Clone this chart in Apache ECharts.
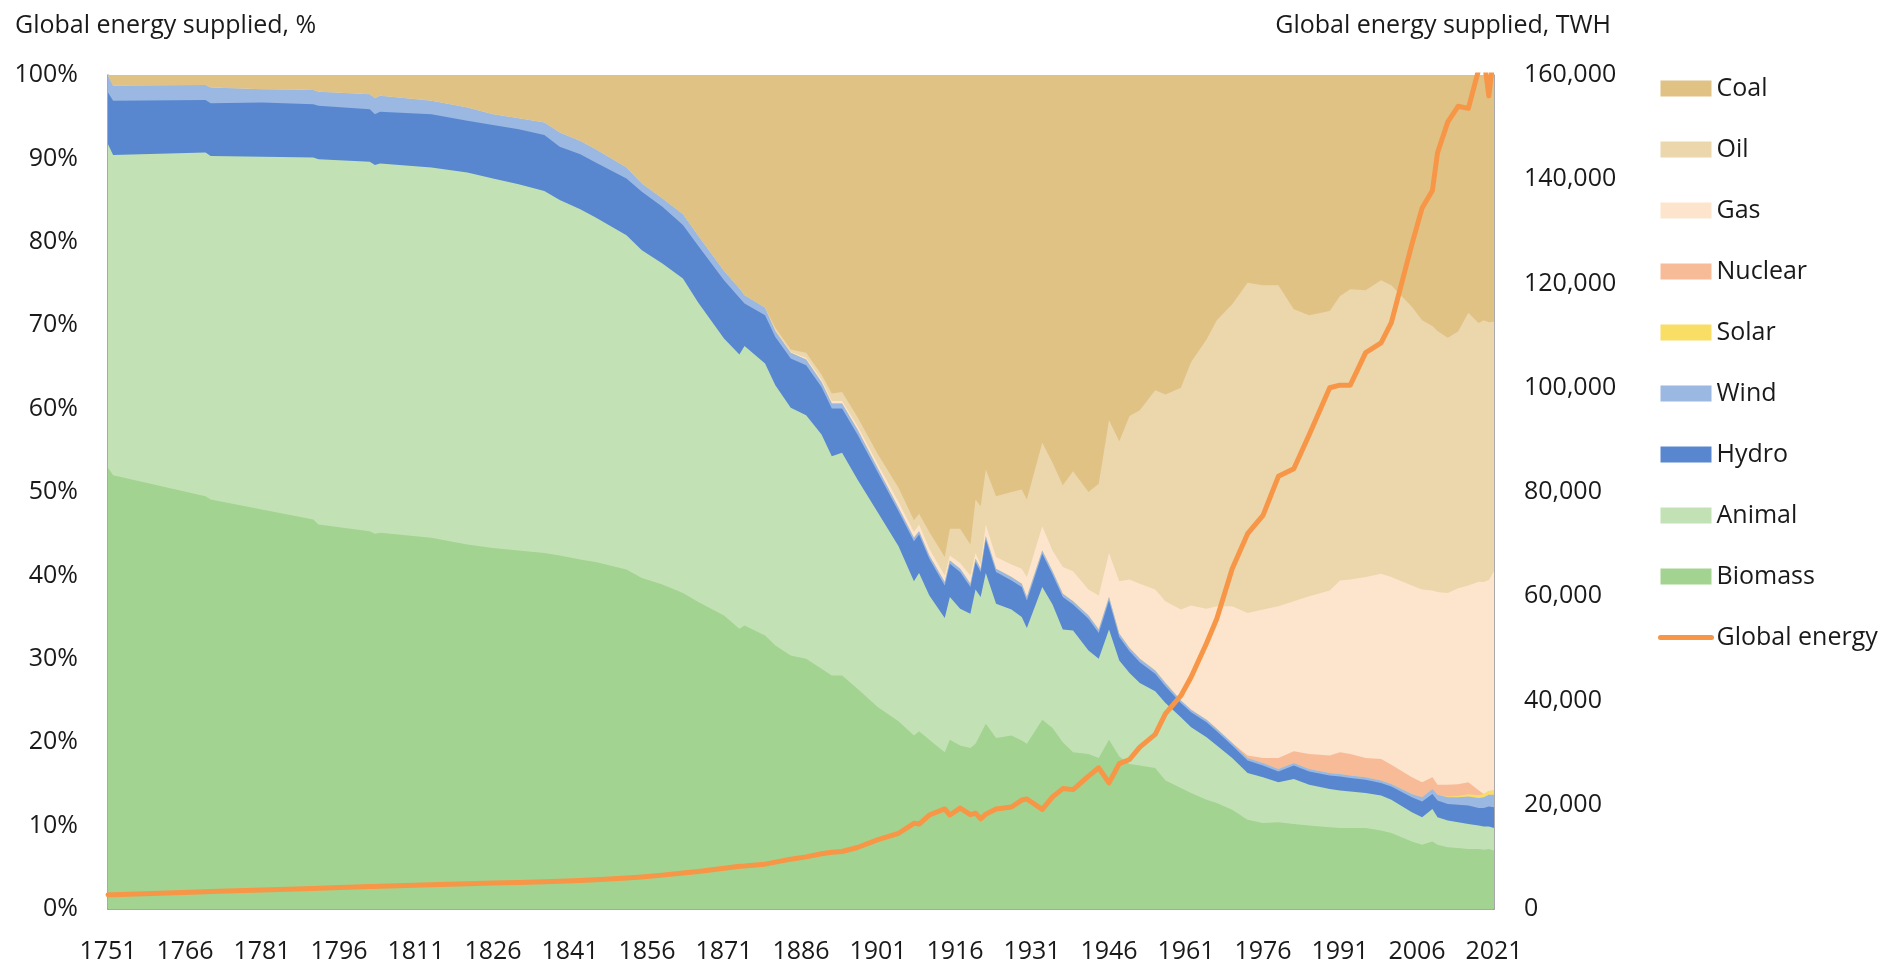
<!DOCTYPE html>
<html lang="en">
<head>
<meta charset="UTF-8">
<title>Global energy supplied</title>
<style>
    html, body { margin: 0; padding: 0; background: #fff; }
    #main { width: 1880px; height: 964px; }
</style>
<script src="https://cdn.jsdelivr.net/npm/echarts@6.0.0/dist/echarts.min.js"></script>
</head>
<body>
<div id="main"></div>
<script>
    // sample years (denser where the shares wiggle)
    var years = [1751, 1752, 1770, 1771, 1781, 1791, 1792, 1802, 1803, 1804, 1814, 1821, 1826, 1831, 1836, 1839,
        1843, 1846, 1852, 1855, 1859, 1863, 1866, 1871, 1874, 1875, 1879, 1881, 1884, 1887, 1890, 1892, 1894, 1897,
        1901, 1905, 1908, 1909, 1911, 1914, 1915, 1917, 1919, 1920, 1921, 1922, 1924, 1927, 1929, 1930, 1933, 1935,
        1937, 1939, 1942, 1944, 1946, 1948, 1950, 1952, 1955, 1957, 1960, 1962, 1965, 1967, 1970, 1973, 1976, 1979,
        1982, 1985, 1989, 1991, 1993, 1996, 1999, 2001, 2005, 2007, 2009, 2010, 2012, 2014, 2016, 2018, 2019, 2020, 2021];

    // shares of global energy supplied, %
    var biomass = [52.9, 52.0, 49.5, 49.1, 47.9, 46.7, 46.1, 45.3, 45.0, 45.1, 44.5, 43.7, 43.3, 43.0, 42.7, 42.4,
        41.9, 41.6, 40.7, 39.7, 38.9, 37.9, 36.8, 35.2, 33.6, 34.0, 32.8, 31.6, 30.4, 30.0, 28.8, 28.0, 28.0, 26.4,
        24.2, 22.5, 20.8, 21.3, 20.3, 18.8, 20.3, 19.6, 19.3, 19.8, 21.0, 22.2, 20.5, 20.8, 20.2, 19.8, 22.7, 21.7,
        20.0, 18.8, 18.6, 18.1, 20.3, 18.3, 17.4, 17.2, 16.9, 15.4, 14.5, 13.9, 13.1, 12.7, 11.9, 10.7, 10.3, 10.4,
        10.2, 10.0, 9.8, 9.7, 9.7, 9.7, 9.4, 9.1, 8.1, 7.7, 8.1, 7.7, 7.4, 7.3, 7.2, 7.2, 7.1, 7.2, 7.0];
    var animal = [38.8, 38.4, 41.2, 41.2, 42.3, 43.4, 43.8, 44.3, 44.2, 44.3, 44.4, 44.6, 44.3, 43.9, 43.4, 42.6,
        42.0, 41.3, 40.1, 39.3, 38.5, 37.7, 35.9, 33.2, 32.9, 33.5, 32.6, 31.2, 29.7, 29.2, 28.1, 26.3, 26.7, 25.1,
        23.3, 21.0, 18.5, 19.0, 17.3, 16.1, 17.1, 16.4, 16.1, 18.5, 16.4, 18.1, 16.1, 15.1, 14.8, 13.9, 15.9, 14.8,
        13.5, 14.6, 12.4, 11.9, 13.2, 11.5, 10.9, 9.9, 9.2, 9.3, 8.5, 7.9, 7.5, 6.9, 6.2, 5.6, 5.5, 4.8,
        5.4, 4.9, 4.6, 4.5, 4.4, 4.2, 4.2, 4.0, 3.5, 3.3, 3.9, 3.3, 3.2, 3.1, 3.0, 2.8, 2.8, 2.7, 2.7];
    var hydro = [6.2, 6.5, 6.3, 6.3, 6.5, 6.4, 6.4, 6.3, 6.1, 6.2, 6.4, 6.2, 6.4, 6.6, 6.7, 6.4,
        6.6, 6.6, 6.8, 7.0, 6.8, 6.4, 6.8, 7.0, 6.8, 5.1, 5.8, 5.8, 5.9, 6.0, 5.7, 5.7, 5.3, 5.4,
        4.8, 4.2, 4.8, 4.6, 4.4, 3.9, 4.0, 4.4, 3.2, 3.3, 3.0, 4.0, 3.8, 3.5, 3.6, 3.3, 4.0, 3.6,
        3.9, 3.1, 3.8, 3.1, 3.5, 2.8, 2.6, 2.5, 2.1, 2.0, 1.7, 1.8, 1.8, 1.7, 1.5, 1.5, 1.4, 1.3,
        1.6, 1.6, 1.6, 1.7, 1.6, 1.6, 1.5, 1.6, 1.8, 1.9, 1.8, 2.0, 2.0, 2.1, 2.2, 2.1, 2.2, 2.4, 2.5];
    var wind = [2.0, 1.8, 1.8, 1.9, 1.6, 1.7, 1.7, 1.8, 1.9, 1.9, 1.6, 1.6, 1.3, 1.3, 1.5, 1.7,
        1.6, 1.6, 1.3, 1.0, 1.0, 1.3, 1.2, 1.1, 1.1, 1.0, 0.9, 0.7, 0.7, 0.7, 0.6, 0.6, 0.6, 0.6,
        0.5, 0.4, 0.4, 0.4, 0.4, 0.4, 0.4, 0.4, 0.4, 0.4, 0.4, 0.4, 0.4, 0.4, 0.4, 0.4, 0.4, 0.4,
        0.4, 0.4, 0.4, 0.4, 0.4, 0.4, 0.4, 0.4, 0.4, 0.4, 0.3, 0.3, 0.3, 0.3, 0.3, 0.3, 0.3, 0.3,
        0.3, 0.3, 0.3, 0.3, 0.3, 0.3, 0.3, 0.3, 0.4, 0.5, 0.6, 0.7, 0.8, 0.9, 1.1, 1.2, 1.3, 1.4, 1.5];
    var solar = [0, 0, 0, 0, 0, 0, 0, 0, 0, 0, 0, 0, 0, 0, 0, 0,
        0, 0, 0, 0, 0, 0, 0, 0, 0, 0, 0, 0, 0, 0, 0, 0, 0, 0,
        0, 0, 0, 0, 0, 0, 0, 0, 0, 0, 0, 0, 0, 0, 0, 0, 0, 0,
        0, 0, 0, 0, 0, 0, 0, 0, 0, 0, 0, 0, 0, 0, 0, 0, 0, 0,
        0, 0, 0, 0, 0, 0, 0, 0, 0, 0, 0, 0, 0.1, 0.15, 0.25, 0.35, 0.4, 0.45, 0.5];
    var nuclear = [0, 0, 0, 0, 0, 0, 0, 0, 0, 0, 0, 0, 0, 0, 0, 0,
        0, 0, 0, 0, 0, 0, 0, 0, 0, 0, 0, 0, 0, 0, 0, 0, 0, 0,
        0, 0, 0, 0, 0, 0, 0, 0, 0, 0, 0, 0, 0, 0, 0, 0, 0, 0,
        0, 0, 0, 0, 0, 0, 0, 0, 0, 0, 0, 0, 0, 0, 0, 0.3, 0.6, 1.3,
        1.4, 1.8, 2.1, 2.6, 2.6, 2.3, 2.6, 2.3, 2.0, 1.8, 1.4, 1.2, 1.4, 1.4, 1.45, 0.6, 0, 0, 0];
    var gas = [0, 0, 0, 0, 0, 0, 0, 0, 0, 0, 0, 0, 0, 0, 0, 0,
        0, 0, 0, 0, 0, 0, 0, 0, 0, 0, 0, 0.1, 0.1, 0.2, 0.3, 0.3, 0.3, 0.4,
        0.5, 0.7, 0.7, 0.8, 0.8, 0.8, 0.6, 0.7, 1.0, 0.7, 0.5, 1.4, 1.4, 1.5, 1.8, 2.4, 2.9, 2.5,
        3.2, 3.6, 3.1, 4.1, 5.3, 6.3, 8.2, 9.0, 9.7, 9.8, 10.9, 12.5, 13.3, 14.7, 16.4, 17.1, 17.8, 18.2,
        18.0, 18.9, 19.8, 20.6, 20.9, 21.7, 22.2, 22.5, 23.0, 23.1, 22.4, 23.1, 23.0, 23.5, 23.6, 25.0, 25.4, 25.3, 26.3];
    var oil = [0, 0, 0, 0, 0, 0, 0, 0, 0, 0, 0, 0, 0, 0, 0, 0,
        0, 0, 0, 0, 0, 0, 0, 0, 0, 0, 0, 0.3, 0.3, 0.6, 0.6, 0.9, 1.1, 1.1,
        1.2, 1.7, 1.4, 1.3, 2.0, 2.2, 3.2, 4.1, 3.7, 6.4, 7.0, 6.6, 7.3, 8.7, 9.5, 9.3, 10.0, 10.5,
        9.8, 12.0, 11.7, 13.4, 15.9, 16.8, 19.6, 20.8, 23.9, 24.8, 26.6, 29.2, 32.3, 34.3, 36.2, 39.6, 38.9, 38.5,
        35.0, 33.7, 33.5, 34.1, 34.8, 34.4, 35.2, 35.0, 33.4, 32.3, 31.7, 31.3, 30.6, 30.8, 32.7, 31.0, 31.4, 30.9, 29.9];
    var coal = [0.1, 1.3, 1.2, 1.5, 1.7, 1.8, 2.0, 2.3, 2.8, 2.5, 3.1, 3.9, 4.7, 5.2, 5.7, 6.9,
        7.9, 8.9, 11.1, 13.0, 14.8, 16.7, 19.3, 23.5, 25.6, 26.4, 27.9, 30.3, 32.9, 33.3, 35.9, 38.2, 38.0, 41.0,
        45.5, 49.5, 53.4, 52.6, 54.8, 57.8, 54.4, 54.4, 56.3, 50.9, 51.7, 47.3, 50.5, 50.0, 49.7, 50.9, 44.1, 46.5,
        49.2, 47.5, 50.0, 49.0, 41.4, 43.9, 40.9, 40.2, 37.8, 38.3, 37.5, 34.4, 31.7, 29.4, 27.5, 24.9, 25.2, 25.2,
        28.1, 28.8, 28.3, 26.5, 25.7, 25.8, 24.6, 25.2, 27.8, 29.4, 30.1, 30.7, 31.5, 30.75, 28.5, 29.75, 29.4, 29.65, 29.6];

    // global energy supplied, TWh
    var globalEnergy = [2730, 2750, 3330, 3370, 3650, 3950, 3980, 4300, 4330, 4360, 4650, 4850, 4980, 5100, 5250, 5320,
        5490, 5600, 5930, 6150, 6500, 6900, 7200, 7800, 8200, 8250, 8600, 9000, 9560, 10000, 10600, 10900, 11030, 11800,
        13300, 14530, 16440, 16300, 18030, 19200, 18030, 19350, 18100, 18400, 17300, 18200, 19200, 19560, 20900, 21100, 19100, 21500,
        23100, 22900, 25500, 27090, 24200, 27880, 28680, 31060, 33500, 37500, 40920, 44500, 51000, 55700, 65280, 72000, 75500, 83000,
        84460, 91000, 100000, 100500, 100500, 106750, 108600, 112500, 127500, 134500, 137840, 145080, 151000, 154000, 153600, 161000, 163500, 156000, 164500];

    var firstYear = 1751;
    var legendOrder = ['Coal', 'Oil', 'Gas', 'Nuclear', 'Solar', 'Wind', 'Hydro', 'Animal', 'Biomass', 'Global energy'];

    // bottom to top
    var layers = [
        { name: 'Biomass', values: biomass, color: '#A3D390' },
        { name: 'Animal', values: animal, color: '#C2E2B5' },
        { name: 'Hydro', values: hydro, color: '#5887D0' },
        { name: 'Wind', values: wind, color: '#9BB8E2' },
        { name: 'Solar', values: solar, color: '#F9DE66' },
        { name: 'Nuclear', values: nuclear, color: '#F8BB97' },
        { name: 'Gas', values: gas, color: '#FDE4CC' },
        { name: 'Oil', values: oil, color: '#ECD6AC' },
        { name: 'Coal', values: coal, color: '#E0C285' }
    ];

    // value x axis can't stack by index, so every layer is filled from 0 up to its running total
    // and the lower layers are drawn over the upper ones
    var running = years.map(function () { return 0; });
    var areaSeries = layers.map(function (layer) {
        running = running.map(function (s, i) { return s + layer.values[i]; });
        var top = running.slice();
        return {
            name: layer.name,
            type: 'line',
            data: years.map(function (y, i) { return [y - firstYear, Math.min(100, +top[i].toFixed(3))]; }),
            symbol: 'none',
            z: 2,
            lineStyle: { width: 0 },
            areaStyle: { color: layer.color, opacity: 1, origin: 'start' },
            itemStyle: { color: layer.color },
            emphasis: { disabled: true }
        };
    });
    // top layer first so that lower ones paint over it
    areaSeries.reverse();

    var font = '"Open Sans", "Noto Sans", sans-serif';
    var textColor = '#1a1a1a';
    var axisLineStyle = { show: true, lineStyle: { color: '#8c8c8c', width: 1.5 } };

    var chart = echarts.init(document.getElementById('main'));
    var option = {
        backgroundColor: '#fff',
        animation: false,
        textStyle: { fontFamily: font },
        title: [
            {
                text: 'Global energy supplied, %',
                left: 10, top: 8,
                textStyle: { fontFamily: font, fontSize: 25, fontWeight: 'normal', color: textColor }
            },
            {
                text: 'Global energy supplied, TWH',
                right: 264, top: 8,
                textStyle: { fontFamily: font, fontSize: 25, fontWeight: 'normal', color: textColor }
            }
        ],
        grid: { left: 108, right: 386, top: 75, bottom: 52, containLabel: false },
        legend: {
            orient: 'vertical',
            left: 1653, top: 71,
            itemWidth: 51, itemHeight: 16,
            itemGap: 36,
            data: legendOrder.map(function (n) {
                if (n === 'Global energy') {
                    return { name: n, itemStyle: { opacity: 0 }, lineStyle: { width: 5, cap: 'round', color: '#F79646' } };
                }
                return { name: n, icon: 'rect' };
            }),
            textStyle: { fontFamily: font, fontSize: 25, color: textColor, lineHeight: 25 },
            selectedMode: false
        },
        xAxis: {
            type: 'value',
            min: 0, max: 270, interval: 15,
            axisLine: axisLineStyle,
            axisTick: { show: false },
            splitLine: { show: false },
            axisLabel: {
                margin: 30,
                fontSize: 25, color: textColor, fontFamily: font,
                formatter: function (v) { return String(v + firstYear); }
            }
        },
        yAxis: [
            {
                type: 'value',
                min: 0, max: 100, interval: 10,
                axisLine: axisLineStyle,
                axisTick: { show: false },
                splitLine: { show: false },
                axisLabel: { margin: 30, fontSize: 25, color: textColor, fontFamily: font, formatter: '{value}%' }
            },
            {
                type: 'value',
                position: 'right',
                min: 0, max: 160000, interval: 20000,
                axisLine: axisLineStyle,
                axisTick: { show: false },
                splitLine: { show: false },
                axisLabel: {
                    margin: 30, fontSize: 25, color: textColor, fontFamily: font,
                    formatter: function (v) { return v.toLocaleString('en-US'); }
                }
            }
        ],
        series: areaSeries.concat([
            {
                name: 'Global energy',
                type: 'line',
                yAxisIndex: 1,
                data: years.map(function (y, i) { return [y - firstYear, globalEnergy[i]]; }),
                symbol: 'none',
                clip: true,
                z: 5,
                lineStyle: { color: '#F79646', width: 5, cap: 'round', join: 'round' },
                itemStyle: { color: '#F79646' },
                emphasis: { disabled: true }
            }
        ])
    };
    chart.setOption(option);
</script>
</body>
</html>
